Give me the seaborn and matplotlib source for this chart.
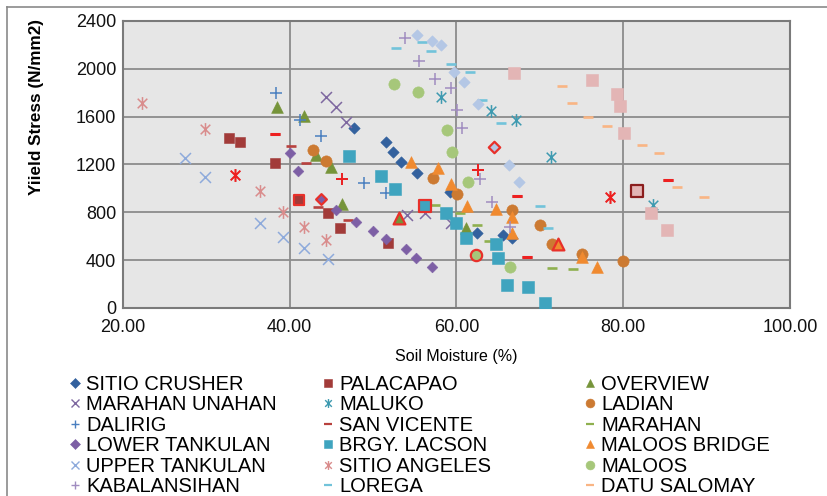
import matplotlib
matplotlib.use('Agg')
import matplotlib.pyplot as plt
import seaborn as sns
from matplotlib.lines import Line2D
from matplotlib.path import Path

# values (soil moisture %, yield stress N/mm2)
SITIO_CRUSHER_X = [47.7, 51.5, 52.4, 53.4, 55.3, 59.2, 62.5, 65.6, 66.7]
SITIO_CRUSHER_Y = [1507, 1385, 1302, 1223, 1131, 972, 630, 610, 583]
PALACAPAO_X = [32.7, 34.0, 38.2, 41.1, 44.6, 46.0, 51.8]
PALACAPAO_Y = [1424, 1391, 1215, 903, 792, 670, 541]
OVERVIEW_X = [38.5, 41.7, 43.2, 45.0, 46.3, 53.1, 61.1]
OVERVIEW_Y = [1678, 1605, 1280, 1181, 869, 750, 666]
MARAHAN_UNAHAN_X = [44.4, 45.5, 46.7, 54.1, 56.2, 59.3]
MARAHAN_UNAHAN_Y = [1761, 1678, 1558, 777, 792, 708]
MALUKO_X = [58.1, 64.1, 67.1, 71.3, 83.6]
MALUKO_Y = [1761, 1650, 1572, 1260, 861]
LADIAN_X = [42.8, 44.4, 57.2, 60.1, 66.7, 70.0, 71.4, 75.0, 80.0]
LADIAN_Y = [1321, 1231, 1084, 953, 819, 694, 535, 451, 393]
DALIRIG_X = [38.4, 41.2, 43.8, 46.3, 48.9, 51.6, 62.6]
DALIRIG_Y = [1800, 1572, 1438, 1076, 1048, 959, 1154]
SAN_VICENTE_X = [38.2, 40.1, 42.0, 43.4, 47.0, 67.3, 68.4, 85.4]
SAN_VICENTE_Y = [1452, 1357, 1209, 842, 736, 936, 424, 1070]
MARAHAN_X = [57.4, 60.4, 62.5, 63.9, 71.4, 74.0]
MARAHAN_Y = [861, 797, 694, 563, 332, 324]
LOWER_TANKULAN_X = [40.0, 41.0, 43.8, 45.5, 47.9, 50.0, 51.6, 53.9, 55.2, 57.1]
LOWER_TANKULAN_Y = [1299, 1145, 909, 819, 722, 640, 574, 491, 415, 340]
BRGY_LACSON_X = [47.1, 51.0, 52.6, 56.2, 58.8, 60.0, 61.1, 64.7, 65.0, 66.1, 68.6, 70.6]
BRGY_LACSON_Y = [1273, 1104, 992, 853, 797, 713, 583, 535, 420, 192, 178, 44]
MALOOS_BRIDGE_X = [54.5, 57.8, 59.4, 61.2, 64.7, 66.7, 66.7, 72.2, 75.0, 76.9]
MALOOS_BRIDGE_Y = [1223, 1168, 1034, 853, 825, 763, 630, 535, 424, 345]
UPPER_TANKULAN_X = [27.4, 29.8, 36.4, 39.2, 41.7, 44.6]
UPPER_TANKULAN_Y = [1251, 1098, 713, 591, 499, 407]
SITIO_ANGELES_X = [22.3, 29.8, 33.4, 36.4, 39.2, 41.7, 44.4, 78.4]
SITIO_ANGELES_Y = [1716, 1496, 1112, 981, 805, 675, 568, 931]
MALOOS_X = [52.5, 55.4, 58.9, 59.5, 61.4, 62.3, 66.4]
MALOOS_Y = [1873, 1809, 1488, 1302, 1051, 443, 340]
KABALANSIHAN_X = [53.8, 55.5, 57.4, 59.3, 60.1, 60.6, 62.8, 64.3, 66.4]
KABALANSIHAN_Y = [2260, 2065, 1912, 1837, 1655, 1502, 1076, 889, 680]
LOREGA_X = [52.7, 55.9, 56.9, 59.3, 61.6, 63.1, 65.3, 70.0, 71.0]
LOREGA_Y = [2176, 2221, 2151, 2038, 1976, 1739, 1549, 853, 666]
DATU_SALOMAY_X = [72.7, 73.9, 75.8, 78.0, 82.2, 84.3, 86.4, 89.7]
DATU_SALOMAY_Y = [1856, 1711, 1599, 1522, 1363, 1298, 1014, 931]
# two more series are plotted but missing from the legend
SERIES_19_X = [55.3, 57.1, 58.2, 59.7, 60.9, 62.6, 64.5, 66.3, 67.5]
SERIES_19_Y = [2282, 2235, 2199, 1976, 1892, 1705, 1343, 1195, 1056]
SERIES_20_X = [66.9, 76.2, 79.2, 79.6, 80.1, 81.6, 83.3, 85.2]
SERIES_20_Y = [1967, 1906, 1787, 1689, 1460, 981, 797, 652]

X_TICKS = [20, 40, 60, 80, 100]
Y_TICKS = [0, 400, 800, 1200, 1600, 2000, 2400]

# points marked in red in the original
HIGHLIGHT = {
    'PALACAPAO': [3], 'OVERVIEW': [5], 'LOWER TANKULAN': [2], 'BRGY. LACSON': [3],
    'MALOOS BRIDGE': [7], 'MALOOS': [5], 'SERIES 19': [6], 'SERIES 20': [5],
    'DALIRIG': [3, 6], 'SAN VICENTE': [0, 5, 6, 7], 'SITIO ANGELES': [2, 7],
}

ASTERISK = Path([(0, -1), (0, 1), (-0.75, -0.75), (0.75, 0.75), (-0.75, 0.75), (0.75, -0.75)],
                [Path.MOVETO, Path.LINETO] * 3)

# name, x, y, marker, color, size, line art?
SERIES = [
    ('SITIO CRUSHER', SITIO_CRUSHER_X, SITIO_CRUSHER_Y, 'D', '#33619e', 34, False),
    ('PALACAPAO', PALACAPAO_X, PALACAPAO_Y, 's', '#a23b39', 62, False),
    ('OVERVIEW', OVERVIEW_X, OVERVIEW_Y, '^', '#76943a', 72, False),
    ('MARAHAN UNAHAN', MARAHAN_UNAHAN_X, MARAHAN_UNAHAN_Y, 'x', '#7e68a0', 62, True),
    ('MALUKO', MALUKO_X, MALUKO_Y, ASTERISK, '#3e9ab0', 85, True),
    ('LADIAN', LADIAN_X, LADIAN_Y, 'o', '#cc7a32', 66, False),
    ('DALIRIG', DALIRIG_X, DALIRIG_Y, '+', '#4a7fc0', 72, True),
    ('SAN VICENTE', SAN_VICENTE_X, SAN_VICENTE_Y, '_', '#b8413e', 55, True),
    ('MARAHAN', MARAHAN_X, MARAHAN_Y, '_', '#8fb04f', 60, True),
    ('LOWER TANKULAN', LOWER_TANKULAN_X, LOWER_TANKULAN_Y, 'D', '#7d5fa5', 30, False),
    ('BRGY. LACSON', BRGY_LACSON_X, BRGY_LACSON_Y, 's', '#3fa4bf', 66, False),
    ('MALOOS BRIDGE', MALOOS_BRIDGE_X, MALOOS_BRIDGE_Y, '^', '#f08a30', 72, False),
    ('UPPER TANKULAN', UPPER_TANKULAN_X, UPPER_TANKULAN_Y, 'x', '#8eaadb', 62, True),
    ('SITIO ANGELES', SITIO_ANGELES_X, SITIO_ANGELES_Y, ASTERISK, '#d98c8c', 85, True),
    ('MALOOS', MALOOS_X, MALOOS_Y, 'o', '#a6c77a', 66, False),
    ('KABALANSIHAN', KABALANSIHAN_X, KABALANSIHAN_Y, '+', '#a08cc0', 72, True),
    ('LOREGA', LOREGA_X, LOREGA_Y, '_', '#72c3da', 50, True),
    ('DATU SALOMAY', DATU_SALOMAY_X, DATU_SALOMAY_Y, '_', '#f9b584', 60, True),
    ('SERIES 19', SERIES_19_X, SERIES_19_Y, 'D', '#b4c7e5', 34, False),
    ('SERIES 20', SERIES_20_X, SERIES_20_Y, 's', '#e3b5b5', 66, False),
]

plt.rcParams['font.family'] = ['Liberation Sans', 'DejaVu Sans']

fig = plt.figure(figsize=(8.28, 4.96), dpi=100)
ax = fig.add_axes([123 / 828, 1 - 308 / 496, 667 / 828, 287 / 496])
ax.set_facecolor('#e6e6e6')

for name, xs, ys, marker, color, size, line_art in SERIES:
    lw = 1.9 if marker == '_' else (1.1 if line_art else 0.4)
    sns.scatterplot(x=xs, y=ys, ax=ax, marker=marker, color=color, s=size,
                    edgecolor=color, linewidth=lw, legend=False, zorder=3)
    idx = HIGHLIGHT.get(name, [])
    if idx:
        hx = [xs[i] for i in idx]
        hy = [ys[i] for i in idx]
        if line_art:
            sns.scatterplot(x=hx, y=hy, ax=ax, marker=marker, color='#ee2020', s=size,
                            edgecolor='#ee2020', linewidth=lw + 0.3, legend=False, zorder=4)
        else:
            edge = '#8b1e1e' if name == 'SERIES 20' else '#e8302a'
            sns.scatterplot(x=hx, y=hy, ax=ax, marker=marker, color=color, s=size,
                            edgecolor=edge, linewidth=1.6, legend=False, zorder=4)

ax.set_xlim(20, 100)
ax.set_ylim(0, 2400)
ax.set_xticks(X_TICKS)
ax.set_xticklabels([f'{v:.2f}' for v in X_TICKS])
ax.set_yticks(Y_TICKS)
ax.set_yticklabels([str(v) for v in Y_TICKS])
ax.tick_params(length=0, labelsize=13, colors='#111111')
ax.tick_params(axis='y', pad=5)
ax.tick_params(axis='x', pad=8)
ax.grid(True, color='#8c8c8c', linewidth=1.3, zorder=1)
ax.set_axisbelow(True)
for sp in ax.spines.values():
    sp.set_color('#7a7a7a')
    sp.set_linewidth(1.5)

ax.set_xlabel('Soil Moisture (%)', fontsize=11.5)
ax.xaxis.set_label_coords(0.5, -0.142)
ax.set_ylabel('Yiield Stress (N/mm2)', fontsize=12.3, fontweight='bold')
ax.yaxis.set_label_coords(-0.118, 0.70)

# legend: 18 named series, 3 columns filled row by row
named = SERIES[:18]
col_x = [69, 322, 584]
for c in range(3):
    handles, labels = [], []
    for name, xs, ys, marker, color, size, line_art in named[c::3]:
        ms = 4.6 if marker == 'D' else 6.4
        mew = 1.6 if marker == '_' else (1.0 if line_art else 0.4)
        handles.append(Line2D([], [], linestyle='none', marker=marker, color=color,
                              markeredgecolor=color, markersize=ms, markeredgewidth=mew))
        labels.append(name)
    fig.legend(handles, labels, loc='upper left', bbox_to_anchor=(col_x[c] / 828, 1 - 375 / 496),
               frameon=False, fontsize=14.5, handlelength=0.6, handletextpad=0.25,
               borderpad=0, borderaxespad=0, labelspacing=0.07)

# outer chart border (top and left edges visible)
fig.add_artist(Line2D([7 / 828, 1], [1 - 7 / 496, 1 - 7 / 496], color='#8a8a8a', lw=1.2))
fig.add_artist(Line2D([7 / 828, 7 / 828], [0, 1 - 7 / 496], color='#8a8a8a', lw=1.2))

fig.savefig('out.png', dpi=100, facecolor='white')
